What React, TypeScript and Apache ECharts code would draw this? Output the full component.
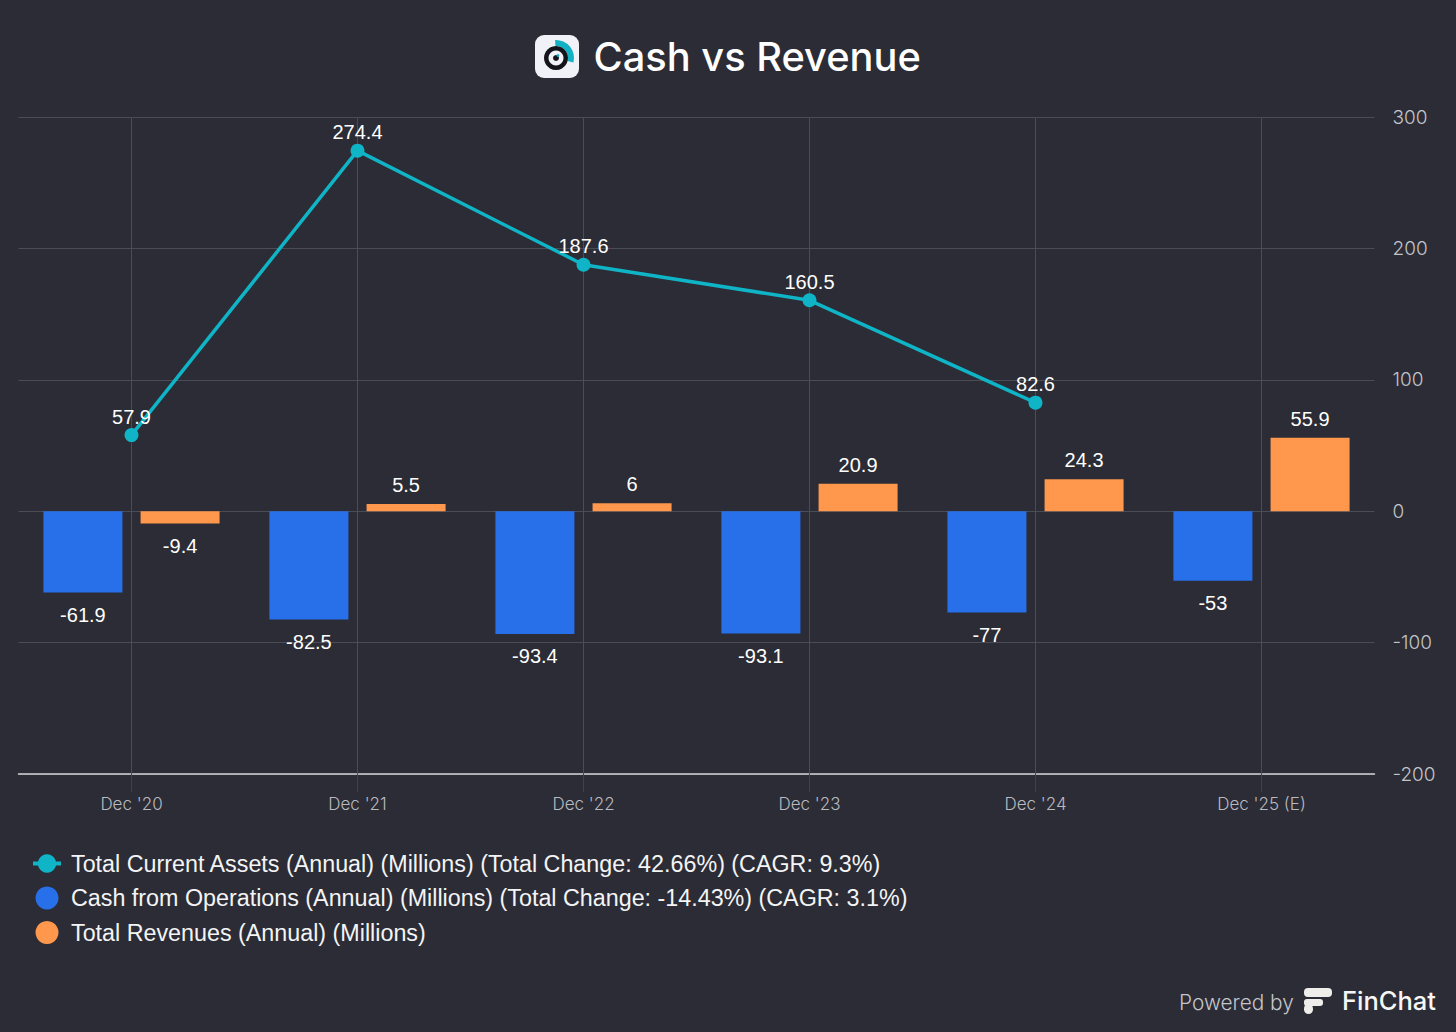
import React, { useEffect, useRef } from "react";
import * as echarts from "echarts";

const categories = ["Dec '20", "Dec '21", "Dec '22", "Dec '23", "Dec '24", "Dec '25 (E)"];
const assets: (number | null)[] = [57.9, 274.4, 187.6, 160.5, 82.6, null];
const cash = [-61.9, -82.5, -93.4, -93.1, -77, -53];
const revenues = [-9.4, 5.5, 6, 20.9, 24.3, 55.9];
const assetsName = "Total Current Assets (Annual) (Millions) (Total Change: 42.66%) (CAGR: 9.3%)";
const cashName = "Cash from Operations (Annual) (Millions) (Total Change: -14.43%) (CAGR: 3.1%)";
const revenuesName = "Total Revenues (Annual) (Millions)";

const BG = "#2b2c35";
const GRID = "#4b4d56";
const TEAL = "#0fb4c6";
const BLUE = "#2870ea";
const ORANGE = "#ff984c";
const SANS = "'Liberation Sans', Arial, sans-serif";
const UI = "Inter, 'Noto Sans', sans-serif";

const barLabel = (v: number) => ({
  value: v,
  label: { position: v < 0 ? "bottom" : "top", distance: v < 0 ? 12.5 : 9 },
});

export default function App() {
  const ref = useRef<HTMLDivElement>(null);
  useEffect(() => {
    document.body.style.margin = "0";
    const chart = echarts.init(ref.current!, undefined, { renderer: "svg" });
    const labelBase = { show: true, color: "#ffffff", fontFamily: SANS, fontSize: 20 };
    chart.setOption({
      animation: false,
      backgroundColor: BG,
      grid: { left: 18.5, right: 81.5, top: 117, bottom: 258, containLabel: false },
      legend: {
        orient: "vertical",
        left: 31,
        top: 852,
        padding: 0,
        itemWidth: 28,
        itemHeight: 23,
        itemGap: 11.5,
        textStyle: { color: "#f4f4f6", fontFamily: SANS, fontSize: 23.3, padding: [0, 0, 0, 5] },
        data: [
          { name: assetsName, lineStyle: { width: 4 } },
          { name: cashName, icon: "circle" },
          { name: revenuesName, icon: "circle" },
        ],
      },
      xAxis: [
        {
          type: "category",
          data: categories,
          position: "bottom",
          axisLine: { show: true, onZero: false, lineStyle: { color: "#d4d4d8", width: 1.5 } },
          axisTick: { show: true, alignWithLabel: true, length: 18, lineStyle: { color: "#3f414a" } },
          axisLabel: { color: "#b9bac0", fontFamily: UI, fontSize: 17, fontWeight: 300, margin: 21 },
          splitLine: { show: false },
        },
        {
          type: "category",
          data: categories,
          position: "bottom",
          axisLine: { show: false, onZero: false },
          axisTick: { show: true, inside: true, alignWithLabel: true, length: 657, lineStyle: { color: GRID } },
          axisLabel: { show: false },
          splitLine: { show: false },
        },
      ],
      yAxis: {
        type: "value",
        position: "right",
        min: -200,
        max: 300,
        interval: 100,
        axisLine: { show: false },
        axisTick: { show: false },
        axisLabel: { color: "#c2c3c9", fontFamily: UI, fontSize: 19, fontWeight: 300, margin: 18, align: "left" },
        splitLine: { show: true, lineStyle: { color: GRID, width: 1 } },
      },
      series: [
        {
          name: cashName,
          type: "bar",
          data: cash.map(barLabel),
          barWidth: 79,
          barGap: "23%",
          itemStyle: { color: BLUE },
          label: labelBase,
          z: 2,
        },
        {
          name: revenuesName,
          type: "bar",
          data: revenues.map(barLabel),
          barWidth: 79,
          barGap: "23%",
          itemStyle: { color: ORANGE },
          label: labelBase,
          z: 2,
        },
        {
          name: assetsName,
          type: "line",
          data: assets,
          symbol: "circle",
          symbolSize: 14,
          lineStyle: { color: TEAL, width: 3.5 },
          itemStyle: { color: TEAL },
          label: { ...labelBase, position: "top", distance: 1.5 },
          z: 5,
        },
      ],
      graphic: [
        { type: "rect", shape: { x: 535, y: 35, width: 44, height: 43, r: 9 }, style: { fill: "#f1f2f7" } },
        { type: "sector", shape: { cx: 556, cy: 58, r0: 12, r: 18, startAngle: -Math.PI / 2 - 0.05, endAngle: 0.25 }, style: { fill: "#12b2c4" } },
        { type: "ring", shape: { cx: 556, cy: 58, r: 12, r0: 7.5 }, style: { fill: "#14151a" } },
        { type: "circle", shape: { cx: 556, cy: 58, r: 3 }, style: { fill: "#14151a" } },
        { type: "circle", shape: { cx: 558, cy: 55.5, r: 1.4 }, style: { fill: "#12b2c4" } },
        { type: "text", x: 593.5, y: 56.5, style: { text: "Cash vs Revenue", fill: "#ffffff", font: `500 39.8px ${UI}`, textVerticalAlign: "middle", textAlign: "left" } },
        { type: "text", x: 1179, y: 1002, style: { text: "Powered by", fill: "#c4c5ca", font: `300 20.8px ${UI}`, textVerticalAlign: "middle", textAlign: "left" } },
        { type: "rect", shape: { x: 1304, y: 988, width: 28, height: 9, r: 4 }, style: { fill: "#f0eeea" } },
        { type: "rect", shape: { x: 1304, y: 999, width: 19, height: 7, r: 3 }, style: { fill: "#f0eeea" } },
        { type: "rect", shape: { x: 1304, y: 1004, width: 9, height: 10, r: 4.5 }, style: { fill: "#f0eeea" } },
        { type: "text", x: 1342, y: 1000.5, style: { text: "FinChat", fill: "#f6f6f6", font: `500 25.5px ${UI}`, textVerticalAlign: "middle", textAlign: "left" } },
      ],
    });
    return () => chart.dispose();
  }, []);
  return <div ref={ref} style={{ width: 1456, height: 1032 }} />;
}
